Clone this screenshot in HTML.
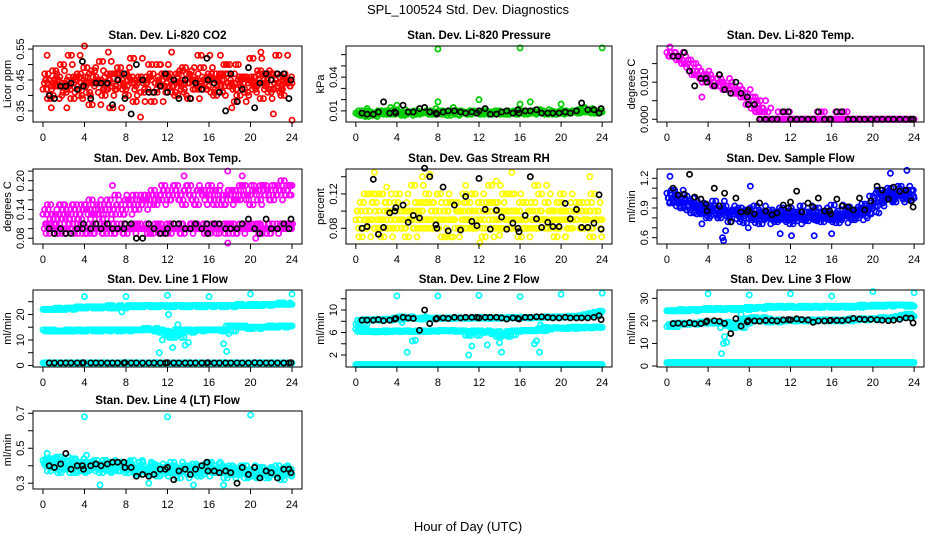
<!DOCTYPE html>
<html><head><meta charset="utf-8">
<style>
html,body{margin:0;padding:0;background:#fff;}
svg{display:block;font-family:"Liberation Sans",Arial,sans-serif;}
</style></head>
<body>
<svg id="chart" width="936" height="540" viewBox="0 0 936 540" xmlns="http://www.w3.org/2000/svg">
<rect x="0" y="0" width="936" height="540" fill="#fff"/>
<text x="468" y="14" font-size="13" text-anchor="middle">SPL_100524  Std. Dev. Diagnostics</text>
<text x="468" y="531" font-size="13" text-anchor="middle">Hour of Day (UTC)</text>
</svg>
<script>
// ---- shared data ----
const xTicks = [0,4,8,12,16,20,24];
const blackHours = [0.6,1.1,1.7,2.2,2.7,3.3,3.8,3.9,4.6,5.1,5.6,6.2,6.7,7.2,7.8,7.9,8.5,9.0,9.6,10.2,10.7,11.3,11.8,12.0,12.6,13.1,13.7,14.2,14.7,15.3,15.8,15.9,16.5,17.0,17.6,18.1,18.7,19.2,19.8,20.4,20.9,21.5,22.0,22.6,23.2,23.7,23.9];

// CO2
const co2A = [.42,.47,.40,.45,.50,.43,.39,.46,.44,.41,.48,.45,.40,.47,.43,.49,.42,.45,.38,.46,.44,.50,.41,.45,.47,.43,.40,.48,.44,.46,.42,.49,.45,.41,.47,.43,.50,.44,.40,.46,.45,.42,.48,.44,.41,.47,.43,.45,.44];
const co2B = [.45,.39,.48,.43,.41,.53,.46,.40,.49,.37,.44,.51,.42,.36,.47,.44,.40,.52,.45,.41,.46,.38,.50,.43,.47,.41,.44,.49,.39,.45,.53,.42,.47,.40,.45,.50,.43,.38,.46,.41,.52,.44,.39,.47,.42,.53,.40,.45];
const co2C = [.44,.45,.43,.46,.44,.42,.45,.47,.43,.44,.46,.45,.42,.44,.47,.45,.43,.46,.44,.45,.42,.47,.44,.43,.46,.45,.44,.42,.47,.45,.43,.44,.46,.45,.43,.47,.44,.42,.45,.46,.44,.43,.47,.45,.42,.44,.46,.44,.43];
const co2OutH = [4,21,0.4,6.3,9.4,12.4,18.2,22.2,24,17.1,0.8,2.3];
const co2OutV = [.56,.54,.53,.54,.33,.54,.36,.34,.32,.53,.36,.36];
const co2Black = [.40,.39,.43,.43,.44,.42,.51,.43,.39,.44,.44,.44,.37,.45,.47,.39,.34,.50,.45,.41,.41,.43,.47,.41,.45,.39,.45,.39,.44,.42,.52,.45,.44,.41,.35,.47,.38,.42,.49,.36,.44,.47,.45,.47,.47,.39,.45];

// Pressure
const presA = [.008,.007,.006,.009,.008,.010,.007,.009,.011,.008,.007,.009,.010,.008,.009,.007,.008,.010,.009,.008,.007,.009,.008,.010,.009,.007,.008,.009,.010,.008,.007,.009,.008,.010,.009,.008,.011,.009,.008,.007,.009,.010,.008,.009,.011,.010,.009,.008,.009];
const presB = [.010,.006,.005,.008,.007,.009,.010,.007,.008,.006,.009,.008,.007,.009,.010,.007,.009,.008,.006,.009,.010,.008,.007,.009,.008,.010,.007,.009,.008,.007,.009,.010,.008,.007,.009,.008,.010,.007,.008,.009,.010,.008,.009,.010,.012,.009,.008,.010];
const presOutH = [8,16,24,8,12,16,17,4,20,1.1,3.4,22.3,7.8,9.5];
const presOutV = [.065,.066,.066,.018,.020,.016,.018,.015,.016,.012,.013,.013,.012,.013];
const presBlack = [.008,.007,.007,.009,.018,.008,.009,.008,.015,.009,.009,.012,.013,.009,.008,.007,.009,.010,.010,.009,.008,.009,.008,.010,.012,.007,.007,.009,.010,.008,.011,.008,.010,.010,.011,.008,.008,.008,.008,.009,.008,.010,.017,.011,.011,.008,.012];

// Li-820 Temp
const ltA = [.018,.017,.017,.016,.015,.013,.012,.011,.011,.010,.009,.010,.008,.008,.007,.006,.004,.003,.002,0,0,0,0,0,0,0,0,0,0,0,0,0,0,0,0,0,0,0,0,0,0,0,0,0,0,0,0,0,0];
const ltB = [.017,.018,.016,.015,.014,.012,.013,.010,.012,.009,.011,.008,.009,.007,.008,.006,.005,.005,.003,0,0,0,0,0,0,0,0,0,0,0,0,0,0,0,0,0,0,0,0,0,0,0,0,0,0,0,0,0];
const ltOutH = [8.6,8.9,9.2,9.5,10.8,11.2,11.5,11.9,14.6,15.0,15.3,16.4,16.8,17.2,17.5,0.3,3.4];
const ltOutV = [.002,.002,.002,.002,.002,.002,.002,.002,.002,.002,.002,.002,.002,.002,.002,.0195,.006];
const ltBlack = [.017,.017,.018,.013,.009,.011,.011,.010,.009,.012,.008,.007,.010,.007,.006,.004,.004,0,0,0,0,.002,.002,0,0,0,0,0,.002,0,0,0,.002,.002,0,0,0,0,0,0,0,0,0,0,0,0,0];

// Amb box temp
const abA = [.13,.14,.12,.13,.15,.12,.14,.13,.15,.14,.13,.15,.14,.16,.13,.15,.14,.16,.17,.15,.16,.17,.15,.16,.18,.17,.19,.16,.18,.17,.15,.18,.17,.16,.18,.15,.17,.18,.16,.19,.17,.18,.16,.19,.18,.17,.19,.18,.19];
const abB = [.11,.15,.13,.12,.14,.13,.15,.12,.14,.16,.13,.12,.15,.14,.17,.13,.16,.15,.14,.17,.16,.18,.17,.19,.16,.18,.17,.15,.19,.16,.18,.17,.19,.15,.16,.17,.18,.16,.19,.17,.15,.18,.19,.17,.16,.18,.20,.17];
const abC = [.10,.09,.10,.11,.09,.10,.10,.11,.09,.10,.11,.10,.09,.10,.11,.10,.09,.10,.11,.10,.10,.09,.11,.10,.10,.11,.10,.09,.10,.11,.10,.10,.09,.11,.10,.10,.11,.09,.10,.10,.11,.10,.09,.10,.11,.10,.10,.11,.10];
const abD = [.11,.10,.09,.10,.10,.11,.09,.10,.10,.09,.10,.11,.10,.09,.10,.11,.10,.10,.11,.10,.09,.10,.11,.10,.09,.10,.11,.10,.10,.11,.10,.09,.10,.11,.10,.09,.11,.10,.10,.11,.10,.11,.10,.09,.10,.11,.10,.11];
const abOutH = [17.8,19.2,6.7,13.6,17.8,2.1,20.5];
const abOutV = [.22,.21,.19,.21,.07,.15,.08];
const abBlack = [.10,.09,.10,.09,.09,.10,.10,.11,.10,.11,.10,.11,.10,.10,.10,.11,.11,.08,.08,.11,.10,.09,.09,.10,.11,.11,.10,.10,.11,.10,.11,.09,.11,.11,.10,.10,.10,.11,.12,.10,.09,.12,.10,.10,.11,.10,.12];

// Gas stream RH
const rhA = [.09,.10,.08,.09,.11,.08,.09,.10,.08,.09,.10,.09,.08,.10,.09,.11,.08,.09,.10,.09,.08,.10,.09,.08,.10,.09,.11,.08,.09,.10,.09,.08,.10,.09,.08,.09,.10,.09,.08,.10,.09,.10,.08,.09,.10,.09,.08,.09,.09];
const rhB = [.08,.11,.09,.12,.10,.07,.11,.09,.12,.08,.10,.13,.09,.11,.08,.10,.12,.09,.07,.11,.10,.12,.09,.08,.11,.10,.13,.09,.08,.10,.12,.09,.11,.08,.10,.13,.09,.11,.10,.08,.12,.09,.10,.11,.08,.10,.12,.09];
const rhC = [.10,.07,.12,.09,.08,.12,.10,.08,.11,.09,.07,.10,.11,.08,.12,.09,.10,.07,.11,.09,.10,.08,.11,.12,.09,.07,.10,.11,.08,.12,.10,.09,.07,.11,.10,.08,.12,.09,.10,.07,.11,.09,.08,.10,.11,.09,.07,.10,.11];
const rhOutH = [1.8,6.5,15.2,22.8,12.1,20.4,14,7.2,10.7,3,13.7];
const rhOutV = [.145,.14,.145,.14,.063,.07,.072,.143,.13,.128,.135];
const rhBlack = [.080,.082,.137,.073,.081,.098,.100,.104,.107,.087,.095,.092,.150,.140,.084,.080,.128,.077,.107,.078,.117,.088,.083,.138,.102,.079,.101,.093,.079,.086,.080,.076,.095,.140,.091,.081,.087,.082,.082,.109,.091,.102,.081,.081,.086,.119,.079];

// Sample flow
const sfA = [1.05,1.0,.98,.95,.93,.92,.90,.88,.90,.87,.85,.88,.86,.84,.86,.82,.84,.80,.82,.79,.80,.82,.78,.80,.81,.79,.82,.78,.80,.83,.80,.81,.79,.83,.80,.82,.85,.82,.84,.86,1.02,1.0,1.05,1.03,1.06,1.04,1.07,1.05,1.0];
const sfB = [.95,1.08,.92,1.0,.88,.95,.84,.93,.82,.97,.80,.92,.76,.88,.90,.75,.86,.92,.74,.85,.88,.76,.90,.84,.74,.86,.92,.77,.85,.90,.76,.87,.93,.75,.84,.91,.78,.88,.94,.85,.92,1.08,.98,1.10,.96,1.12,.99,1.08];
const sfC = [1.0,.96,1.02,.90,.97,.85,.91,.87,.80,.92,.83,.88,.82,.86,.79,.84,.88,.78,.83,.86,.80,.78,.85,.82,.87,.77,.83,.80,.86,.79,.82,.85,.78,.84,.81,.86,.88,.80,.90,.92,.95,1.05,.97,1.02,.99,1.06,1.02,1.0,.98];
const sfOutH = [0.3,5.4,5.5,5.7,8.1,11,12.1,14.3,16,21.7,23.3,3.4,7.9];
const sfOutV = [1.22,.60,.57,.67,1.12,.64,.62,.62,.64,1.25,1.28,.74,.70];
const sfBlack = [1.10,1.03,1.04,1.24,1.01,.99,.94,.87,1.10,.92,1.05,.76,1.00,.86,.86,.88,.84,.95,.87,.83,.85,.93,.90,.96,1.07,.86,.95,.91,1.00,.87,.87,.84,.99,.92,.91,.88,1.0,.88,.97,1.12,1.08,.99,1.11,1.07,1.08,.97,.91];

// Line 1 flow
const l1A = [22,22,22,22.5,22,22.5,22.5,23,22.5,23,23,22.5,23,23.5,22.5,23,23,23.5,23.5,23,23.5,23.5,23,23.5,23.5,23,23.5,23.5,23,23.5,23.5,23,23.5,23.5,23.5,23,23.5,23.5,24,23.5,23.5,24,23.5,24,24,24,24.5,24,24];
const l1B = [14,13.5,13.5,13.5,13.5,14,13.5,14,13.5,14,14,13.5,14,14,14,13.5,14,14,14,14,14.5,14,13.5,13,12,11,14,13,14,13.5,14,14,14,14,14,13.5,15.5,15.5,15,15,14.5,15,15,15,15.5,15,15.5,15.5,15.5];
const l1C = [1,1.1,0.9,1,1,1.1,1,0.9,1,1,1.1,1,1,0.9,1,1,1.1,1,1,1,0.9,1,1.1,1,1,1,0.9,1,1.1,1,1,1,1,0.9,1,1.1,1,1,1,1,0.9,1,1.1,1,1,1,1,0.9,1];
const l1OutH = [4,8,12,16,20,24,11.2,12.1,11.5,12.5,13,13.3,13.7,14,17.4,17.7,7.6,17.9];
const l1OutV = [27,27,27.5,27,28,28,5,20,10,7,16,14,8,9,8.5,5.5,21,12.5];
const l1Black = [1,1,1,1,1,1,1,1.1,1,1,1,1,1,1,1,1.1,1,1,1,1,1,1,1,1.1,1,1,1,1,1,1,1,1.1,1,1,1,1,1,1,1,1.1,1,1,1,1,1,1,1.1];

// Line 2 flow
const l2A = [7.5,8.2,8.3,8.2,8.3,8.2,8.4,8.3,8.6,8.8,8.5,8.6,8.5,8.4,8.6,8.5,8.6,8.5,8.6,8.5,8.6,8.6,8.5,8.6,8.7,8.6,8.5,8.6,8.7,8.6,8.6,8.7,8.6,8.7,8.6,8.7,8.7,8.8,8.7,8.8,8.8,8.8,8.9,8.8,9.0,9.2,9.4,9.6,9.8];
const l2B = [6.6,6.2,6.2,6.2,6.1,6.2,6.3,6.2,6.3,6.2,6.3,6.2,6.2,6.3,6.2,6.3,6.3,6.4,6.3,6.3,6.2,6.3,5.5,6.0,6.3,6.1,6.2,5.8,5.3,5.6,6.2,6.3,6.3,6.4,6.4,6.3,6.6,6.9,6.8,6.8,6.8,6.7,6.9,7.0,6.8,6.9,6.9,7.0,6.9];
const l2C = [.3,.3,.3,.3,.3,.3,.3,.3,.3,.3,.3,.3,.3,.3,.3,.3,.3,.3,.3,.3,.3,.3,.3,.3,.3,.3,.3,.3,.3,.3,.3,.3,.3,.3,.3,.3,.3,.3,.3,.3,.3,.3,.3,.3,.3,.3,.3,.3,.3];
const l2OutH = [4,8,12,16,20,24,5.5,5.8,5,11,11.3,12.8,14,14.2,17.4,17.6,17.9,4.5,6.8,18];
const l2OutV = [12.5,12.5,12.6,12.4,12.8,13.0,4.5,4.6,2.5,2,3.6,3.8,4.2,2.5,4,4.5,2.5,7.8,8.8,7.3];
const l2Black = [8.2,8.2,8.2,8.3,8.1,8.2,8.4,8.5,8.7,8.6,8.5,6.4,10.0,7.6,8.4,8.5,8.6,8.5,8.7,8.6,8.7,8.7,8.7,8.6,8.7,8.7,8.7,8.6,8.4,8.6,8.5,8.4,8.7,8.7,8.8,8.8,8.7,8.6,8.6,8.7,8.6,8.6,8.6,8.6,8.7,9.0,8.3];

// Line 3 flow
const l3A = [24.5,24.5,24.5,25,24.5,25,25,25,25.5,25,25.5,25,25.5,25.5,25,25.5,26,25.5,26,26,26.5,26,26.5,26,26.5,26,26,26.5,26,26.5,26,26.5,26.5,26,26.5,26.5,26,26.5,27,26.5,26.5,27,26.5,27,27,27,27,26.5,26.5];
const l3B = [17.5,18.5,19,19,18.5,19,19,19.5,19,19,19.5,19,18,17,19,20,21,21.5,21,20,19.5,20,20.5,20,20.5,20,20.5,20,20.5,20,20.5,20.5,20,20.5,20,20.5,21,20.5,21,20.5,21,21,21.5,21,21.5,22,22.5,23,22];
const l3C = [1.5,1.5,1.5,1.5,1.5,1.5,1.5,1.5,1.5,1.5,1.5,1.5,1.5,1.5,1.5,1.5,1.5,1.5,1.5,1.5,1.5,1.5,1.5,1.5,1.5,1.5,1.5,1.5,1.5,1.5,1.5,1.5,1.5,1.5,1.5,1.5,1.5,1.5,1.5,1.5,1.5,1.5,1.5,1.5,1.5,1.5,1.5,1.5,1.5];
const l3OutH = [4,8,12,16,20,24,5.3,5.5,5.8,5.6,5.2,7.2,7.5];
const l3OutV = [32,31.5,32,31,33,32.5,5.5,10,10.5,13,17,23,21];
const l3Black = [18.8,19,18.7,19.2,18.7,18.8,19.5,20,20.1,19.8,18.9,14.4,21,17.7,19.6,20.1,20,19.9,20.2,20.2,20,20.4,20.6,20.4,20.9,20.6,20.4,19.4,20,20,20.1,20.3,20.2,20.2,20.4,21.1,20.8,20.6,20.7,20.5,20.3,20.1,20.3,20.7,21.3,21.2,19.1];

// Line 4 flow
const l4A = [.43,.42,.41,.40,.42,.39,.41,.40,.39,.41,.40,.39,.41,.40,.40,.41,.39,.40,.38,.39,.37,.38,.39,.37,.38,.36,.38,.37,.39,.38,.37,.39,.38,.40,.38,.37,.36,.37,.35,.36,.35,.36,.34,.35,.36,.35,.37,.36,.35];
const l4B = [.40,.37,.44,.36,.43,.38,.36,.42,.37,.40,.43,.36,.38,.42,.37,.40,.36,.43,.35,.40,.36,.41,.34,.39,.36,.40,.33,.39,.35,.41,.34,.38,.42,.36,.39,.33,.40,.35,.38,.33,.37,.34,.39,.33,.36,.40,.32,.36,.38];
const l4C = [.41,.44,.39,.45,.38,.40,.44,.37,.42,.39,.41,.38,.43,.37,.39,.42,.38,.40,.36,.42,.38,.35,.40,.37,.39,.42,.36,.38,.40,.35,.39,.37,.41,.36,.38,.39,.35,.38,.37,.40,.34,.37,.39,.35,.38,.36,.34,.39,.37];
const l4OutH = [4,12,20,0.4,5.5,10.2,14.5,17.4,4.2];
const l4OutV = [.68,.68,.69,.47,.29,.30,.29,.29,.46];
const l4Black = [.40,.39,.41,.47,.38,.40,.40,.38,.40,.41,.40,.41,.42,.42,.42,.39,.39,.34,.35,.34,.35,.38,.38,.39,.32,.37,.38,.35,.38,.40,.42,.37,.37,.36,.37,.36,.30,.39,.35,.39,.33,.37,.36,.33,.38,.38,.36];

// ---- layout ----
const colX = [[33,302],[346,612],[657,924]];
const rowY = [[46,122],[169,244],[290,367],[411,489]];

const panels = [
 {id:'co2',col:0,row:0,title:'Stan. Dev. Li-820 CO2',ylab:'Licor ppm',dom:[0.314,0.56],ticks:[.35,.40,.45,.50,.55],labels:['0.35','0.45','0.55'],color:'#ff0000',bands:[[0,co2A],[0.25,co2B],[0.125,co2C]],oh:co2OutH,ov:co2OutV,blk:co2Black},
 {id:'pressure',col:1,row:0,title:'Stan. Dev. Li-820 Pressure',ylab:'kPa',dom:[0.0001,0.0677],ticks:[.01,.02,.03,.04,.05,.06],labels:['0.01','0.04'],color:'#00cd00',bands:[[0,presA],[0.25,presB]],oh:presOutH,ov:presOutV,blk:presBlack},
 {id:'li820-temp',col:2,row:0,title:'Stan. Dev. Li-820 Temp.',ylab:'degrees C',dom:[-0.00074,0.01975],ticks:[0,.005,.010,.015],labels:['0.000','0.010'],color:'#ff00ff',bands:[[0,ltA],[0.25,ltB]],oh:ltOutH,ov:ltOutV,blk:ltBlack},
 {id:'amb-box-temp',col:0,row:1,title:'Stan. Dev. Amb. Box Temp.',ylab:'degrees C',dom:[0.068,0.2244],ticks:[.08,.10,.12,.14,.16,.18,.20,.22],labels:['0.08','0.14','0.20'],color:'#ff00ff',bands:[[0,abA],[0.25,abB],[0.125,abC],[0.375,abD]],oh:abOutH,ov:abOutV,blk:abBlack},
 {id:'gas-stream-rh',col:1,row:1,title:'Stan. Dev. Gas Stream RH',ylab:'percent',dom:[0.0617,0.149],ticks:[.08,.10,.12,.14],labels:['0.08','0.12'],color:'#ffff00',bands:[[0,rhA],[0.25,rhB],[0.125,rhC]],oh:rhOutH,ov:rhOutV,blk:rhBlack},
 {id:'sample-flow',col:2,row:1,title:'Stan. Dev. Sample Flow',ylab:'ml/min',dom:[0.536,1.294],ticks:[.6,.7,.8,.9,1.0,1.1,1.2],labels:['0.6','0.9','1.2'],color:'#0000ff',bands:[[0,sfA],[0.25,sfB],[0.125,sfC]],oh:sfOutH,ov:sfOutV,blk:sfBlack},
 {id:'line1-flow',col:0,row:2,title:'Stan. Dev. Line 1 Flow',ylab:'ml/min',dom:[-0.6,29.6],ticks:[0,5,10,15,20,25],labels:['0','10','20'],color:'#00ffff',bands:[[0,l1A],[0.25,l1A],[0,l1B],[0.25,l1B],[0,l1C],[0.25,l1C]],oh:l1OutH,ov:l1OutV,blk:l1Black},
 {id:'line2-flow',col:1,row:2,title:'Stan. Dev. Line 2 Flow',ylab:'ml/min',dom:[-0.13,13.56],ticks:[2,4,6,8,10,12],labels:['2','6','10'],color:'#00ffff',bands:[[0,l2A],[0.25,l2A],[0,l2B],[0.25,l2B],[0,l2C],[0.25,l2C]],oh:l2OutH,ov:l2OutV,blk:l2Black},
 {id:'line3-flow',col:2,row:2,title:'Stan. Dev. Line 3 Flow',ylab:'ml/min',dom:[-0.44,33.7],ticks:[0,10,20,30],labels:['0','10','20','30'],color:'#00ffff',bands:[[0,l3A],[0.25,l3A],[0,l3B],[0.25,l3B],[0,l3C],[0.25,l3C]],oh:l3OutH,ov:l3OutV,blk:l3Black},
 {id:'line4-flow',col:0,row:3,title:'Stan. Dev. Line 4 (LT) Flow',ylab:'ml/min',dom:[0.267,0.713],ticks:[.3,.4,.5,.6,.7],labels:['0.3','0.5','0.7'],color:'#00ffff',bands:[[0,l4A],[0.25,l4B],[0.125,l4C]],oh:l4OutH,ov:l4OutV,blk:l4Black}
];

const NS='http://www.w3.org/2000/svg';
const svg=document.getElementById('chart');
function mk(tag,attrs,parent){const e=document.createElementNS(NS,tag);for(const k in attrs)e.setAttribute(k,attrs[k]);(parent||svg).appendChild(e);return e;}

panels.forEach(p=>{
  const [x0,x1]=colX[p.col], [y0,y1]=rowY[p.row];
  const xs=h=>x0+(h+0.96)/25.92*(x1-x0);
  const ys=v=>y1-(v-p.dom[0])/(p.dom[1]-p.dom[0])*(y1-y0);
  const g=mk('g',{});
  
  
  const cx=(x0+x1)/2;
  const t=mk('text',{x:cx,y:y0-7,'font-size':11.5,'font-weight':'bold','text-anchor':'middle'},g);
  t.textContent=p.title;
  
  
  const yl=mk('text',{x:0,y:0,'font-size':11,'text-anchor':'middle',transform:`translate(${x0-22},${(y0+y1)/2}) rotate(-90)`},g);
  yl.textContent=p.ylab;
  
  
  // points
  const pts=mk('g',{fill:'none','stroke-width':1.7},g);
  
  
  p.bands.forEach(([off,arr])=>{
    // each band drawn at its offset and at two shifted offsets using the neighbouring sample value (keeps trends)
    [[off,0],[off+0.17,1],[off+0.33,-1]].forEach(([o,sh])=>{
      arr.forEach((_,i)=>{const h=o+i*0.5; if(h>24.05)return;
        const j=Math.min(arr.length-1,Math.max(0,i+sh));
        const v=arr[j];
        const c=mk('circle',{cx:xs(h),cy:ys(v),r:2.6,stroke:p.color},pts);
        
        
      });
    });
  });
  p.oh.forEach((h,i)=>{
    const c=mk('circle',{cx:xs(h),cy:ys(p.ov[i]),r:2.6,stroke:p.color},pts);
    
    
  });
  p.blk.forEach((v,i)=>{ if(i>=blackHours.length)return;
    const c=mk('circle',{cx:xs(blackHours[i]),cy:ys(v),r:2.6,stroke:'#000'},pts);
    
    
  });
  // box
  const b=mk('rect',{x:x0,y:y0,width:x1-x0,height:y1-y0,fill:'none',stroke:'#000','stroke-width':1},g);
  
  
  // x axis
  const xa=mk('g',{stroke:'#000','stroke-width':1},g);
  
  
  xTicks.forEach(tk=>{
    mk('line',{x1:xs(tk),x2:xs(tk),y1:y1,y2:y1+5},xa);
    const l=mk('text',{x:xs(tk),y:y1+19,'font-size':11,'text-anchor':'middle',stroke:'none',fill:'#000'},xa);
    l.textContent=String(tk);
    
    
  });
  // y axis
  const ya=mk('g',{stroke:'#000','stroke-width':1},g);
  
  
  p.ticks.forEach(tk=>{mk('line',{x1:x0-5,x2:x0,y1:ys(tk),y2:ys(tk)},ya);});
  p.labels.forEach(lb=>{
    const v=parseFloat(lb);
    const l=mk('text',{x:0,y:0,'font-size':11,'text-anchor':'middle',stroke:'none',fill:'#000',transform:`translate(${x0-9},${ys(v)}) rotate(-90)`},ya);
    l.textContent=lb;
    
    
  });
});
</script>
</body></html>
